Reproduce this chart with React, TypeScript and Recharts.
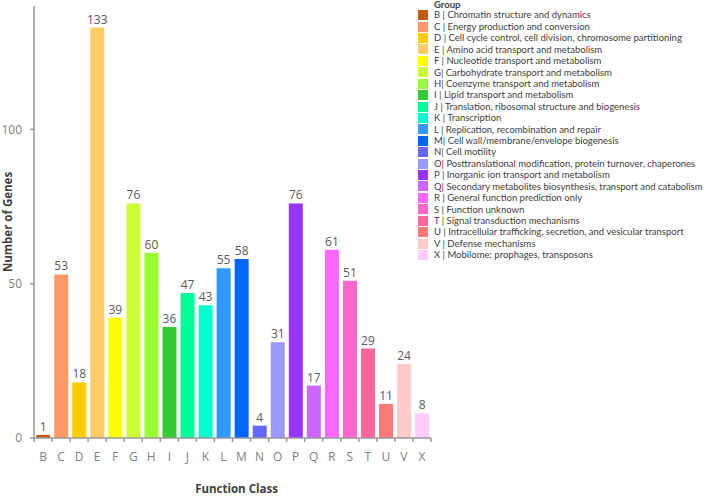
import React from "react"
import { BarChart, Bar, XAxis, YAxis, Cell, LabelList, Label } from "recharts"

const classes = ["B", "C", "D", "E", "F", "G", "H", "I", "J", "K", "L", "M", "N", "O", "P", "Q", "R", "S", "T", "U", "V", "X"]
const counts = [1, 53, 18, 133, 39, 76, 60, 36, 47, 43, 55, 58, 4, 31, 76, 17, 61, 51, 29, 11, 24, 8]
const colors = [
  "#C55A11", "#FF9966", "#FFCC00", "#FFCC66", "#FFFF00", "#CCFF33", "#99FF33", "#33CC33",
  "#00FF99", "#00FFCC", "#3399FF", "#0066FF", "#6666FF", "#9999FF", "#9933FF", "#CC66FF",
  "#FF66FF", "#FF66CC", "#FF6699", "#FF7777", "#FFCCCC", "#FFCCFF",
]
const descriptions = [
  "B | Chromatin structure and dynamics",
  "C | Energy production and conversion",
  "D | Cell cycle control, cell division, chromosome partitioning",
  "E | Amino acid transport and metabolism",
  "F | Nucleotide transport and metabolism",
  "G| Carbohydrate transport and metabolism",
  "H| Coenzyme transport and metabolism",
  "I  | Lipid transport and metabolism",
  "J | Translation, ribosomal structure and biogenesis",
  "K | Transcription",
  "L | Replication, recombination and repair",
  "M| Cell wall/membrane/envelope biogenesis",
  "N| Cell motility",
  "O| Posttranslational modification, protein turnover, chaperones",
  "P | Inorganic ion transport and metabolism",
  "Q| Secondary metabolites biosynthesis, transport and catabolism",
  "R | General function prediction only",
  "S | Function unknown",
  "T | Signal transduction mechanisms",
  "U | Intracellular trafficking, secretion, and vesicular transport",
  "V | Defense mechanisms",
  "X | Mobilome: prophages, transposons",
]
const yTicks = [0, 50, 100]

const data = classes.map((c, i) => ({ name: c, count: counts[i] }))

const FONT = "'Open Sans', 'Noto Sans', sans-serif"
const LEGEND_FONT = "Lato, 'Liberation Sans', sans-serif"
const AXIS = "#999999"
const TEXT = "#595959"
const BAND = 397 / classes.length

function XTick(props: any) {
  const { x, y, index } = props
  const left = x - BAND / 2
  return (
    <g>
      <line x1={left} y1={y} x2={left} y2={y + 4} stroke={AXIS} strokeWidth={1.5} />
      {index === classes.length - 1 && (
        <line x1={x + BAND / 2} y1={y} x2={x + BAND / 2} y2={y + 4} stroke={AXIS} strokeWidth={1.5} />
      )}
      <text x={x} y={y + 23} textAnchor="middle" fill="#7f7f7f" fontSize={12} fontFamily={FONT}>
        {props.payload.value}
      </text>
    </g>
  )
}

function GroupLegend() {
  return (
    <div
      style={{
        position: "absolute",
        left: 414,
        top: 0,
        fontFamily: LEGEND_FONT,
        fontSize: 9.5,
        color: "#404040",
        lineHeight: "11.43px",
      }}
    >
      <div style={{ fontWeight: 700, paddingLeft: 20, marginTop: -1.5, marginBottom: -0.5, height: 11.43 }}>Group</div>
      {descriptions.map((d, i) => (
        <div key={d} style={{ display: "flex", alignItems: "center", height: 11.43, whiteSpace: "nowrap" }}>
          <span style={{ width: 10, height: 10, background: colors[i], marginLeft: 4, marginRight: 6, flex: "none" }} />
          <span>{d}</span>
        </div>
      ))}
    </div>
  )
}

export default function App() {
  return (
    <div style={{ position: "absolute", left: 0, top: 0, width: 708, height: 496, background: "#fff" }}>
      <BarChart
        width={708}
        height={496}
        data={data}
        margin={{ top: 6, right: 277, left: 0, bottom: 0 }}
        barCategoryGap="12%"
      >
        <XAxis
          dataKey="name"
          height={58}
          interval={0}
          tick={<XTick />}
          tickLine={false}
          tickSize={0}
          tickMargin={0}
          axisLine={{ stroke: AXIS, strokeWidth: 1.5 }}
        >
          <Label
            value="Function Class"
            position="insideBottom"
            offset={3}
            dx={4}
            style={{ fontFamily: FONT, fontSize: 11.5, fontWeight: 700, fill: "#404040" }}
          />
        </XAxis>
        <YAxis
          width={34}
          domain={[0, 140]}
          ticks={yTicks}
          tickSize={4}
          tickMargin={8}
          axisLine={{ stroke: AXIS, strokeWidth: 1.5 }}
          tickLine={{ stroke: AXIS, strokeWidth: 1.5 }}
          tick={{ fontSize: 12, fill: "#7f7f7f", fontFamily: FONT }}
        >
          <Label
            value="Number of Genes"
            angle={-90}
            position="insideLeft"
            offset={8}
            style={{ textAnchor: "middle", fontFamily: FONT, fontSize: 11.5, fontWeight: 700, fill: "#404040" }}
          />
        </YAxis>
        <Bar dataKey="count" isAnimationActive={false}>
          {data.map((d, i) => (
            <Cell key={d.name} fill={colors[i]} />
          ))}
          <LabelList dataKey="count" position="top" offset={4} style={{ fontSize: 12, fill: TEXT, fontFamily: FONT }} />
        </Bar>
      </BarChart>
      <GroupLegend />
    </div>
  )
}
